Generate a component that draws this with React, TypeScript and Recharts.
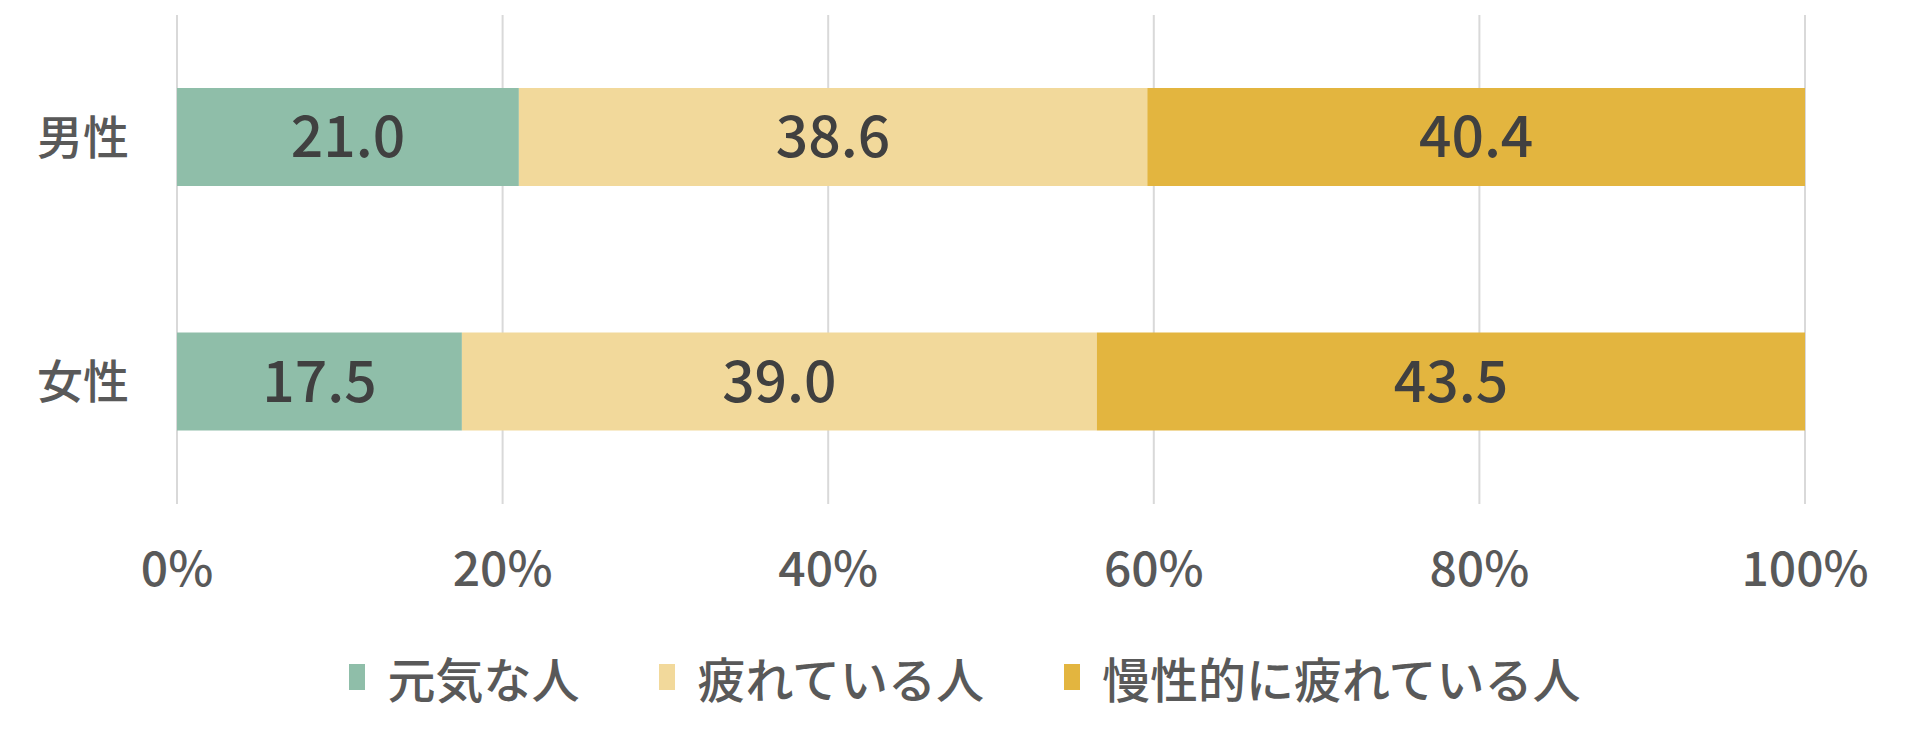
import React from "react"
import { BarChart, Bar, XAxis, YAxis, CartesianGrid, Legend, LabelList } from "recharts"

const categories = ["男性", "女性"]
const genki = [21.0, 17.5]
const tsukare = [38.6, 39.0]
const mansei = [40.4, 43.5]
const xTicks = [0, 20, 40, 60, 80, 100]

const seriesNames = ["元気な人", "疲れている人", "慢性的に疲れている人"]
const seriesColors = ["#8FBEA9", "#F2D99B", "#E3B53F"]

const data = categories.map((c, i) => ({
  name: c,
  s0: genki[i],
  s1: tsukare[i],
  s2: mansei[i],
}))

const font = "'Noto Sans CJK JP', 'Noto Sans', sans-serif"

function LegendBox() {
  return (
    <div style={{ display: "flex", justifyContent: "center", alignItems: "center", paddingLeft: 10, fontFamily: font }}>
      {seriesNames.map((n, i) => (
        <div key={n} style={{ display: "flex", alignItems: "center", marginRight: i < 2 ? 80 : 0 }}>
          <div style={{ width: 16, height: 26, background: seriesColors[i], marginRight: 22 }} />
          <span style={{ fontSize: 48, fontWeight: 500, color: "#595959", lineHeight: "60px" }}>{n}</span>
        </div>
      ))}
    </div>
  )
}

export default function App() {
  return (
    <div style={{ position: "absolute", left: 0, top: 0 }}>
      <BarChart
        width={1920}
        height={744}
        data={data}
        layout="vertical"
        margin={{ top: 15, right: 115, bottom: 140, left: 0 }}
      >
        <CartesianGrid horizontal={false} stroke="#D9D9D9" strokeWidth={2} />
        <XAxis
          type="number"
          domain={[0, 100]}
          ticks={xTicks}
          tickFormatter={(v) => v + "%"}
          axisLine={false}
          tickLine={false}
          tickMargin={42}
          height={100}
          tick={{ fill: "#595959", fontSize: 48, fontWeight: 500, fontFamily: font }}
        />
        <YAxis
          type="category"
          dataKey="name"
          width={177}
          axisLine={false}
          tickLine={false}
          tickMargin={42}
          tick={{ fill: "#595959", fontSize: 46, fontWeight: 500, fontFamily: font }}
        />
        <Legend
          layout="horizontal"
          verticalAlign="middle"
          align="center"
          wrapperStyle={{ top: 647, left: 0, width: 1920 }}
          content={() => <LegendBox />}
        />
        {["s0", "s1", "s2"].map((k, i) => (
          <Bar key={k} dataKey={k} stackId="a" fill={seriesColors[i]} barSize={98} isAnimationActive={false}>
            <LabelList
              dataKey={k}
              position="center"
              formatter={(v: number) => v.toFixed(1)}
              style={{ fill: "#404040", fontSize: 57, fontWeight: 500, fontFamily: font }}
            />
          </Bar>
        ))}
      </BarChart>
    </div>
  )
}
